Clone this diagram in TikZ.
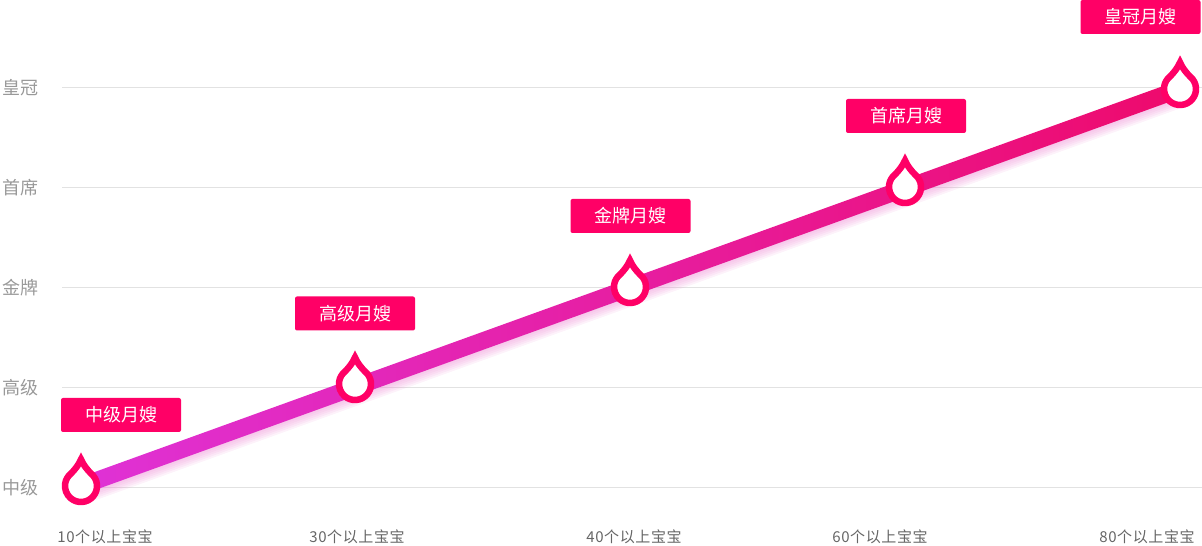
\documentclass[tikz,border=0pt]{standalone}
\usepackage{fontspec}
\setmainfont{Noto Sans CJK SC}
\usetikzlibrary{calc}
\definecolor{rosered}{HTML}{FF0066}
\definecolor{linestart}{HTML}{DF32D6}
\definecolor{lineend}{HTML}{EE0A6C}
\definecolor{gridgray}{HTML}{E2E2E2}
\definecolor{levelgray}{HTML}{999999}
\definecolor{countgray}{HTML}{666666}
\definecolor{glowpink}{HTML}{EE90D6}
\tikzset{
  levelbox/.style={fill=rosered, rounded corners=2pt, minimum width=120pt, minimum height=34pt,
    inner sep=0pt, text=white, font=\fontsize{18}{18}\selectfont},
  levellabel/.style={text=levelgray, font=\fontsize{18}{18}\selectfont},
  countlabel/.style={text=countgray, font=\fontsize{15}{15}\selectfont\addfontfeature{LetterSpace=4}},
  drop/.style={draw=rosered, line width=6.5pt, fill=white, line join=miter}
}

\begin{document}
\begin{tikzpicture}[x=1pt,y=1pt]
\useasboundingbox (0,0) rectangle (1202,546);
\foreach \y/\lev in {58/中级,158/高级,258/金牌,358/首席,458/皇冠} % edit here for the levels
{
\draw[gridgray, line width=1pt] (62,\y) -- (1202,\y);
\node[levellabel] (lev-\y) at (20,\y) {\lev};
}
\foreach \x/\n in {105/10,357/30,634/40,880/60,1147/80} % edit here for the counts
\node[countlabel] (cnt-\n) at (\x,9.5) {\n{}个以上宝宝};
\coordinate (m1) at (81,60);
\coordinate (m2) at (355,162);
\coordinate (m3) at (630,259);
\coordinate (m4) at (905,359);
\coordinate (m5) at (1180,457);
\foreach \s in {2,4,...,12} % glow under the line
\draw[glowpink, line width=14pt, opacity=0.12] ($(m1)+(0,-\s)$) -- ($(m5)+(0,-\s)$);
\shade[left color=linestart, right color=lineend] ($(m1)+(-2.9,8)$) -- ($(m5)+(-2.9,8)$)
  -- ($(m5)+(2.9,-8)$) -- ($(m1)+(2.9,-8)$) -- cycle;
\foreach \m in {m1,m2,m3,m4,m5} % edit here for the drops
\draw[drop, shift={(\m)}] (0,26.5) .. controls (2,21.5) and (6.8,15.5) .. (50:16)
  arc[start angle=50, end angle=-230, radius=16] .. controls (-6.8,15.5) and (-2,21.5) .. cycle;
\node[levelbox] (b1) at (121,131) {中级月嫂};
\node[levelbox] (b2) at (355,232.5) {高级月嫂};
\node[levelbox] (b3) at (630.5,330) {金牌月嫂};
\node[levelbox] (b4) at (906,430) {首席月嫂};
\node[levelbox] (b5) at (1140.5,529) {皇冠月嫂};
\end{tikzpicture}
\end{document}
